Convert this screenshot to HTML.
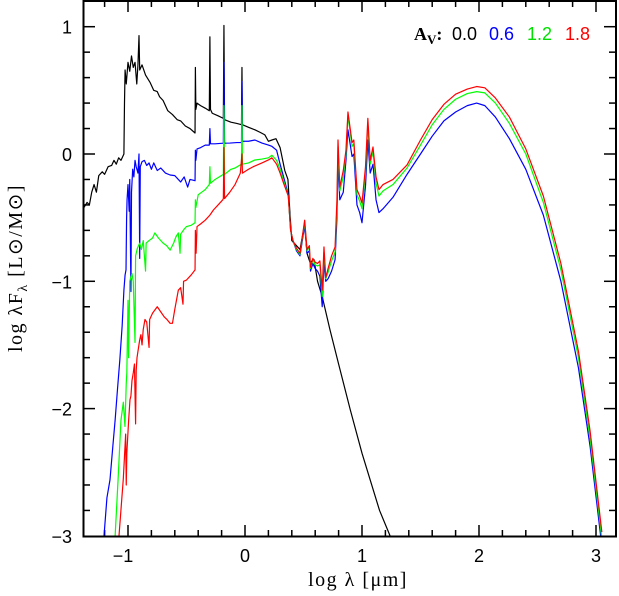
<!DOCTYPE html>
<html><head><meta charset="utf-8"><style>
html,body{margin:0;padding:0;background:#fff;}
svg{display:block;}
text{font-family:"Liberation Sans",sans-serif;}
</style></head><body>
<svg id="chart" width="619" height="596" viewBox="0 0 619 596" xmlns="http://www.w3.org/2000/svg">
<defs><clipPath id="plotclip"><rect x="84" y="1" width="532" height="535"/></clipPath></defs>
<g id="ticks"></g>
<g id="series" clip-path="url(#plotclip)"></g>
<rect x="83.5" y="1" width="532.5" height="535.5" fill="none" stroke="#000" stroke-width="2"/>
<g id="ticklabels" font-size="18"></g>
<text x="358" y="586" text-anchor="middle" font-size="20" letter-spacing="1.5" style="font-family:'Liberation Serif',serif">log  λ  [μm]</text>
<text transform="translate(22,268) rotate(-90)" text-anchor="middle" font-size="20" letter-spacing="1.5" style="font-family:'Liberation Serif',serif">log  λF<tspan font-size="14" dy="5">λ</tspan><tspan dy="-5">  [L⊙/M⊙]</tspan></text>
<g font-size="18">
<text x="414" y="40" style="font-family:'Liberation Serif',serif" font-weight="bold">A<tspan font-size="13" dy="4">V</tspan><tspan dy="-4">:</tspan></text>
<text x="452" y="40" fill="#000">0.0</text>
<text x="489" y="40" fill="#0000ff">0.6</text>
<text x="527" y="40" fill="#00e000">1.2</text>
<text x="565" y="40" fill="#ff0000">1.8</text>
</g>
</svg>
<script>
const xTickLabels = [-1, 0, 1, 2, 3];
const yTickLabels = [1, 0, -1, -2, -3];
const avLabels = ['0.0', '0.6', '1.2', '1.8'];

const sed_av00 = [[-1.376,-0.42],[-1.35,-0.38],[-1.33,-0.40],[-1.31,-0.30],[-1.29,-0.24],[-1.27,-0.30],[-1.25,-0.17],[-1.22,-0.14],[-1.2,-0.16],[-1.17,-0.10],[-1.14,-0.09],[-1.12,-0.05],[-1.10,-0.08],[-1.08,-0.03],[-1.06,-0.05],[-1.035,0.0],[-1.03,0.40],[-1.025,0.66],[-1.015,0.55],[-1.0,0.72],[-0.985,0.65],[-0.97,0.77],[-0.955,0.68],[-0.94,0.72],[-0.925,0.55],[-0.915,0.70],[-0.906,0.93],[-0.9,0.66],[-0.88,0.70],[-0.85,0.62],[-0.81,0.56],[-0.78,0.50],[-0.75,0.49],[-0.73,0.45],[-0.7,0.42],[-0.66,0.34],[-0.62,0.31],[-0.58,0.27],[-0.55,0.26],[-0.51,0.22],[-0.47,0.20],[-0.427,0.165],[-0.424,0.68],[-0.42,0.35],[-0.41,0.40],[-0.38,0.38],[-0.34,0.36],[-0.305,0.34],[-0.30,0.92],[-0.295,0.35],[-0.28,0.32],[-0.23,0.30],[-0.185,0.28],[-0.18,1.01],[-0.175,0.27],[-0.12,0.25],[-0.07,0.24],[-0.03,0.23],[-0.026,0.68],[-0.022,0.23],[0.03,0.21],[0.085,0.19],[0.13,0.17],[0.17,0.15],[0.20,0.10],[0.23,0.11],[0.265,0.12],[0.30,0.05],[0.34,-0.13],[0.367,-0.20],[0.385,-0.48],[0.40,-0.68],[0.44,-0.72],[0.47,-0.75],[0.51,-0.55],[0.53,-0.78],[0.555,-0.85],[0.59,-0.83],[0.62,-1.0],[0.66,-1.12],[0.726,-1.38],[0.80,-1.65],[0.90,-2.01],[1.0,-2.35],[1.07,-2.56],[1.15,-2.8],[1.24,-3.0]];

const uv_av06 = [[-1.205,-3.0],[-1.18,-2.7],[-1.154,-2.56],[-1.13,-2.3],[-1.11,-2.09],[-1.09,-1.85],[-1.07,-1.62],[-1.05,-1.35],[-1.035,-1.07],[-1.025,-0.95],[-1.017,-0.91],[-1.012,-0.5],[-1.008,-0.36],[-1.0,-0.24],[-0.99,-0.45],[-0.985,-0.2],[-0.975,-1.08],[-0.97,-0.30],[-0.96,-0.12],[-0.95,-0.18],[-0.94,-0.05],[-0.93,-0.10],[-0.915,-0.15],[-0.906,0.0],[-0.9,-0.82],[-0.895,-0.1],[-0.88,-0.06],[-0.86,-0.05],[-0.84,-0.09],[-0.82,-0.07],[-0.80,-0.12],[-0.78,-0.07],[-0.75,-0.13],[-0.72,-0.11],[-0.68,-0.15],[-0.64,-0.165],[-0.6,-0.17],[-0.57,-0.20],[-0.55,-0.22],[-0.52,-0.18],[-0.49,-0.26],[-0.47,-0.20],[-0.427,-0.21],[-0.424,0.03],[-0.42,-0.05],[-0.41,0.04],[-0.38,0.05],[-0.34,0.07],[-0.305,0.07],[-0.30,0.20],[-0.295,0.08],[-0.256,0.08],[-0.185,0.085],[-0.18,0.72],[-0.175,0.085],[-0.128,0.086],[-0.07,0.09],[-0.03,0.09],[-0.026,0.57],[-0.022,0.10],[0.03,0.10],[0.085,0.11],[0.145,0.086],[0.2,0.07]];
const uv_av12 = [[-1.11,-3.0],[-1.085,-2.56],[-1.06,-2.09],[-1.04,-1.95],[-1.026,-2.14],[-1.015,-1.8],[-1.01,-1.72],[-1.0,-1.15],[-0.995,-1.6],[-0.985,-1.0],[-0.966,-0.94],[-0.955,-1.0],[-0.94,-1.48],[-0.935,-0.8],[-0.92,-0.74],[-0.90,-0.70],[-0.885,-0.75],[-0.87,-0.68],[-0.85,-0.92],[-0.845,-0.70],[-0.82,-0.68],[-0.79,-0.66],[-0.77,-0.62],[-0.74,-0.66],[-0.70,-0.70],[-0.67,-0.72],[-0.64,-0.755],[-0.61,-0.70],[-0.59,-0.65],[-0.57,-0.62],[-0.555,-0.78],[-0.55,-0.63],[-0.52,-0.59],[-0.5,-0.57],[-0.46,-0.56],[-0.427,-0.54],[-0.424,-0.36],[-0.42,-0.42],[-0.40,-0.32],[-0.37,-0.30],[-0.34,-0.28],[-0.305,-0.24],[-0.30,-0.10],[-0.295,-0.23],[-0.256,-0.2],[-0.185,-0.16],[-0.18,0.38],[-0.175,-0.16],[-0.12,-0.12],[-0.085,-0.11],[-0.03,-0.08],[-0.026,0.38],[-0.022,-0.08],[0.03,-0.07],[0.085,-0.047],[0.145,-0.04],[0.2,-0.03]];
const uv_av18 = [[-1.077,-3.0],[-1.04,-2.55],[-1.02,-2.2],[-1.015,-2.6],[-1.01,-2.35],[-0.995,-2.1],[-0.983,-1.93],[-0.975,-1.9],[-0.966,-1.78],[-0.955,-1.72],[-0.945,-1.65],[-0.935,-2.12],[-0.93,-1.7],[-0.923,-1.6],[-0.91,-1.52],[-0.90,-1.46],[-0.89,-1.42],[-0.88,-1.50],[-0.87,-1.38],[-0.855,-1.30],[-0.84,-1.32],[-0.82,-1.52],[-0.815,-1.30],[-0.79,-1.25],[-0.75,-1.2],[-0.72,-1.24],[-0.69,-1.28],[-0.667,-1.30],[-0.64,-1.33],[-0.62,-1.33],[-0.6,-1.22],[-0.57,-1.07],[-0.55,-1.05],[-0.53,-1.18],[-0.525,-1.0],[-0.5,-0.99],[-0.46,-0.95],[-0.427,-0.91],[-0.424,-0.60],[-0.418,-0.78],[-0.41,-0.57],[-0.38,-0.55],[-0.34,-0.52],[-0.30,-0.48],[-0.27,-0.44],[-0.23,-0.40],[-0.19,-0.36],[-0.185,-0.35],[-0.18,0.05],[-0.175,-0.35],[-0.13,-0.30],[-0.085,-0.24],[-0.04,-0.15],[-0.026,0.0],[-0.022,-0.15],[0.03,-0.12],[0.07,-0.10],[0.145,-0.07],[0.2,-0.047]];

const midLam = [0.23,0.27,0.30,0.33,0.37,0.39,0.41,0.44,0.47,0.51,0.53,0.55,0.56,0.58,0.60,0.62,0.64,0.66,0.675,0.69,0.71,0.74,0.77,0.786,0.795,0.81,0.84,0.863,0.88,0.915,0.93,0.957,0.98,1.0,1.03,1.05,1.07,1.094,1.12,1.145,1.18,1.265,1.385,1.5,1.6,1.7,1.8,1.9,1.98,2.05,2.14,2.26,2.4,2.55,2.7,2.85,2.95,3.05];
const mid_av06 = [0.06,0.03,-0.08,-0.18,-0.32,-0.60,-0.68,-0.76,-0.80,-0.56,-0.78,-0.76,-0.92,-0.86,-0.90,-0.92,-0.96,-1.2,-0.85,-1.0,-0.98,-0.92,-0.83,-0.5,-0.05,-0.36,-0.3,-0.05,0.19,-0.02,0.0,-0.40,-0.46,-0.54,-0.25,0.11,-0.15,-0.08,-0.36,-0.46,-0.43,-0.34,-0.16,0.0,0.14,0.26,0.33,0.38,0.40,0.38,0.29,0.12,-0.12,-0.48,-1.0,-1.68,-2.3,-3.08];
const mid_av12 = [-0.01,-0.05,-0.12,-0.21,-0.33,-0.60,-0.68,-0.75,-0.79,-0.53,-0.76,-0.73,-0.90,-0.83,-0.87,-0.88,-0.87,-1.12,-0.77,-0.98,-0.93,-0.84,-0.77,-0.41,0.06,-0.29,-0.18,0.0,0.30,0.06,0.08,-0.32,-0.37,-0.43,-0.15,0.24,-0.08,0.02,-0.23,-0.33,-0.29,-0.24,-0.11,0.07,0.23,0.35,0.43,0.475,0.49,0.48,0.40,0.24,0.0,-0.38,-0.91,-1.6,-2.24,-3.02];
const mid_av18 = [-0.03,-0.08,-0.15,-0.23,-0.33,-0.60,-0.68,-0.74,-0.78,-0.52,-0.75,-0.72,-0.89,-0.82,-0.85,-0.86,-0.84,-1.07,-0.73,-0.97,-0.90,-0.80,-0.73,-0.36,0.11,-0.26,-0.13,0.03,0.33,0.09,0.11,-0.28,-0.33,-0.385,-0.10,0.28,-0.05,0.055,-0.18,-0.28,-0.24,-0.20,-0.086,0.11,0.27,0.39,0.47,0.51,0.53,0.52,0.44,0.29,0.04,-0.33,-0.86,-1.55,-2.18,-2.97];

const xScale = v => 245 + 117 * v;
const yScale = v => 154 - 127.3 * v;
const NS = 'http://www.w3.org/2000/svg';

function mk(tag, attrs, parent) {
  const el = document.createElementNS(NS, tag);
  for (const k in attrs) el.setAttribute(k, attrs[k]);
  parent.appendChild(el);
  return el;
}
function pathFrom(pts) {
  return pts.map((p, i) => (i ? 'L' : 'M') + xScale(p[0]).toFixed(2) + ' ' + yScale(p[1]).toFixed(2)).join(' ');
}
function combine(uv, mid) {
  return uv.concat(midLam.map((l, i) => [l, mid[i]]));
}

const seriesG = document.getElementById('series');
const seriesList = [
  {name: 'sed-av-0.0', pts: sed_av00, color: '#000000'},
  {name: 'sed-av-0.6', pts: combine(uv_av06, mid_av06), color: '#0000ff'},
  {name: 'sed-av-1.2', pts: combine(uv_av12, mid_av12), color: '#00ff00'},
  {name: 'sed-av-1.8', pts: combine(uv_av18, mid_av18), color: '#ff0000'}
];
seriesList.forEach(s => {
  const p = mk('path', {d: pathFrom(s.pts), fill: 'none', stroke: s.color, 'stroke-width': 1.2, 'stroke-linejoin': 'round'}, seriesG);
  
  
});

const tickG = document.getElementById('ticks');
const labG = document.getElementById('ticklabels');
for (let i = -7; i <= 15; i++) {
  const v = i * 0.2;
  const x = xScale(v);
  if (x < 84 || x > 615) continue;
  const major = Math.abs(v - Math.round(v)) < 1e-6;
  const len = major ? 11 : 6;
  const t1 = mk('line', {x1: x, x2: x, y1: 536, y2: 536 - len, stroke: '#000', 'stroke-width': 1.5}, tickG);
  
  
  const t2 = mk('line', {x1: x, x2: x, y1: 1, y2: 1 + len, stroke: '#000', 'stroke-width': 1.5}, tickG);
  
  
}
for (let i = -15; i <= 6; i++) {
  const v = i * 0.2;
  const y = yScale(v);
  if (y < 2 || y > 535) continue;
  const major = Math.abs(v - Math.round(v)) < 1e-6;
  const len = major ? 11 : 6;
  const t1 = mk('line', {x1: 84, x2: 84 + len, y1: y, y2: y, stroke: '#000', 'stroke-width': 1.5}, tickG);
  
  
  const t2 = mk('line', {x1: 615, x2: 615 - len, y1: y, y2: y, stroke: '#000', 'stroke-width': 1.5}, tickG);
  
  
}
xTickLabels.forEach(v => {
  const t = mk('text', {x: xScale(v) - (v < 0 ? 5 : 0), y: 562, 'text-anchor': 'middle'}, labG);
  t.textContent = v < 0 ? '\u2212' + Math.abs(v) : String(v);
  
  
});
yTickLabels.forEach(v => {
  const t = mk('text', {x: 72, y: yScale(v) + 7, 'text-anchor': 'end'}, labG);
  t.textContent = v < 0 ? '\u2212' + Math.abs(v) : String(v);
  
  
});
</script>
</body></html>
